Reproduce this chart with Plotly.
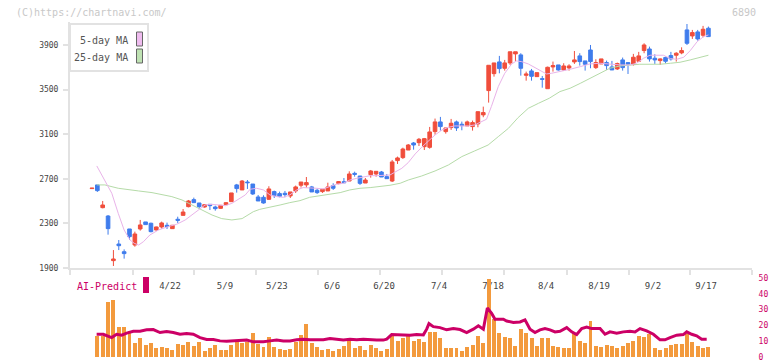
import plotly.graph_objects as go

# ---------------- data ----------------
opens = [2612, 2645, 2441, 2366, 1966, 2115, 2046, 2250, 2106, 2250,
         2313, 2301, 2241, 2268, 2283, 2253, 2337, 2372, 2450, 2513,
         2483, 2447, 2471, 2447, 2435, 2468, 2495, 2645, 2600, 2671,
         2653, 2537, 2534, 2516, 2585, 2567, 2570, 2546, 2591, 2642,
         2645, 2627, 2597, 2585, 2591, 2639, 2657, 2674, 2680, 2749,
         2725, 2662, 2737, 2743, 2761, 2719, 2680, 2863, 2890, 2958,
         3021, 3024, 2988, 2982, 3123, 3210, 3123, 3159, 3210, 3189,
         3174, 3168, 3192, 3273, 3491, 3643, 3748, 3691, 3739, 3820,
         3811, 3628, 3667, 3616, 3598, 3508, 3703, 3721, 3676, 3694,
         3748, 3802, 3757, 3855, 3697, 3730, 3742, 3703, 3685, 3766,
         3742, 3727, 3754, 3850, 3864, 3781, 3760, 3787, 3805, 3808,
         3829, 4035, 3981, 4017, 3987, 4050]
highs = [2616, 2645, 2501, 2375, 2061, 2151, 2067, 2250, 2226, 2331,
         2313, 2307, 2271, 2316, 2307, 2286, 2360, 2429, 2510, 2531,
         2483, 2468, 2471, 2459, 2462, 2489, 2573, 2654, 2689, 2689,
         2653, 2555, 2552, 2633, 2594, 2585, 2591, 2582, 2639, 2671,
         2716, 2636, 2612, 2606, 2665, 2660, 2680, 2707, 2767, 2764,
         2725, 2707, 2779, 2767, 2770, 2743, 2869, 2899, 2979, 3012,
         3030, 3066, 3066, 3165, 3240, 3255, 3156, 3237, 3222, 3213,
         3222, 3222, 3302, 3347, 3718, 3739, 3802, 3766, 3839, 3839,
         3826, 3661, 3685, 3652, 3622, 3706, 3751, 3721, 3736, 3727,
         3846, 3826, 3757, 3900, 3772, 3775, 3760, 3757, 3742, 3787,
         3742, 3820, 3838, 3915, 3885, 3817, 3781, 3796, 3838, 3835,
         3879, 4088, 4035, 4035, 4071, 4065]
lows = [2612, 2582, 2435, 2199, 1918, 2061, 1984, 2151, 2091, 2235,
        2289, 2220, 2235, 2253, 2250, 2250, 2304, 2372, 2444, 2486,
        2432, 2441, 2420, 2414, 2432, 2465, 2495, 2576, 2600, 2609,
        2555, 2501, 2477, 2510, 2528, 2534, 2534, 2528, 2573, 2621,
        2621, 2582, 2564, 2573, 2591, 2600, 2651, 2665, 2680, 2719,
        2645, 2662, 2710, 2719, 2716, 2701, 2671, 2833, 2878, 2958,
        2961, 2994, 2958, 2970, 3096, 3132, 3105, 3138, 3129, 3135,
        3174, 3132, 3162, 3252, 3383, 3616, 3646, 3670, 3721, 3757,
        3625, 3580, 3580, 3616, 3517, 3508, 3661, 3670, 3667, 3670,
        3730, 3715, 3670, 3691, 3685, 3730, 3676, 3676, 3676, 3670,
        3640, 3715, 3751, 3826, 3751, 3730, 3721, 3736, 3760, 3751,
        3817, 3900, 3954, 3939, 3969, 3975]
closes = [2616, 2594, 2465, 2253, 1981, 2100, 2029, 2181, 2205, 2286,
          2289, 2226, 2268, 2304, 2271, 2283, 2328, 2402, 2501, 2486,
          2450, 2468, 2459, 2432, 2462, 2486, 2573, 2612, 2680, 2665,
          2564, 2501, 2483, 2609, 2549, 2543, 2558, 2582, 2627, 2671,
          2666, 2582, 2576, 2606, 2627, 2615, 2675, 2665, 2743, 2740,
          2659, 2689, 2770, 2767, 2716, 2701, 2851, 2887, 2967, 3003,
          3003, 3054, 3060, 3120, 3210, 3168, 3156, 3198, 3156, 3177,
          3210, 3204, 3302, 3294, 3718, 3739, 3688, 3739, 3839, 3839,
          3691, 3640, 3619, 3652, 3592, 3700, 3715, 3676, 3712, 3712,
          3766, 3751, 3727, 3751, 3742, 3775, 3715, 3676, 3733, 3697,
          3727, 3790, 3802, 3900, 3775, 3766, 3775, 3754, 3775, 3826,
          3850, 3915, 4011, 3954, 4041, 3975]

volume = [0, 13.2, 13.2, 34.5, 35.8, 18.8, 18.8, 16.3, 8.8, 11.9,
          7.5, 8.8, 5.6, 6.3, 5.6, 4.4, 8.1, 7.5, 9.4, 6.9,
          9.4, 3.7, 5.6, 7.5, 4.4, 4.4, 7.5, 9.4, 8.8, 9.4,
          15.1, 8.1, 6.3, 12.5, 6.3, 5.0, 4.4, 5.0, 9.4, 13.8,
          20.7, 8.8, 6.3, 4.4, 5.0, 3.7, 5.0, 6.9, 10.0, 5.6,
          6.9, 4.4, 7.5, 5.6, 3.7, 5.0, 13.2, 10.0, 11.9, 13.2,
          10.0, 11.3, 9.4, 15.7, 15.7, 11.9, 5.6, 5.6, 5.6, 3.7,
          6.3, 7.5, 13.2, 8.8, 49.6, 23.9, 15.1, 12.5, 11.9, 7.1,
          17.8, 15.3, 11.9, 7.1, 11.9, 11.9, 7.1, 6.3, 5.6, 5.6,
          15.3, 10.2, 8.8, 22.6, 6.9, 6.3, 7.5, 6.9, 5.6, 6.9,
          8.8, 10.2, 13.2, 12.6, 14.7, 5.6, 4.4, 5.6, 7.5, 8.2,
          8.2, 14.7, 9.4, 6.9, 5.6, 6.3]

ma5_x = [0.9, 2.4, 3.7, 4.9, 6.0, 7.1, 7.9, 8.7, 9.6, 10.8, 12.4, 14.2, 15.8, 17.4,
         18.6, 19.9, 21.1, 22.4, 23.6, 24.9, 26.1, 27.4, 28.6, 29.5, 30.7, 32.0,
         33.2, 34.5, 35.7, 36.9, 38.2, 39.4, 40.6, 41.9, 43.1, 44.4, 45.6, 46.9,
         48.1, 49.4, 50.6, 51.9, 53.1, 54.4, 55.6, 56.9, 57.8, 59.0, 60.3, 61.5,
         62.7, 64.0, 65.3, 66.5, 67.7, 69.0, 70.2, 71.4, 72.7, 73.6, 74.5, 75.8,
         77.0, 78.3, 79.2, 80.1, 81.4, 82.6, 83.9, 84.8, 85.7, 87.3, 89.2, 91.1,
         92.9, 94.8, 96.6, 98.5, 100.4, 101.6, 102.9, 104.1, 105.4, 106.6, 107.9,
         109.1, 110.4, 111.6, 112.9, 114.1, 115.0]
ma5_y = [2815, 2689, 2570, 2390, 2241, 2151, 2121, 2106, 2136, 2196, 2241, 2271, 2292, 2331,
         2375, 2426, 2465, 2471, 2465, 2459, 2480, 2516, 2555, 2606, 2615, 2600,
         2555, 2540, 2534, 2555, 2600, 2621, 2621, 2615, 2609, 2630, 2651, 2660,
         2689, 2704, 2713, 2728, 2728, 2728, 2734, 2770, 2794, 2845, 2923, 2982,
         3033, 3093, 3138, 3162, 3174, 3174, 3174, 3183, 3213, 3234, 3347, 3527,
         3646, 3730, 3757, 3751, 3730, 3700, 3661, 3640, 3646, 3661, 3682, 3706,
         3730, 3736, 3727, 3721, 3721, 3736, 3781, 3808, 3808, 3808, 3778,
         3772, 3790, 3849, 3930, 3975, 3990]

ma25_x = [0.9, 2.4, 4.9, 6.8, 8.7, 11.2, 13.1, 14.9, 16.8, 18.6, 20.5, 22.4, 24.2,
          26.1, 28.0, 28.9, 30.1, 31.3, 33.2, 35.1, 36.9, 38.8, 40.6, 42.5, 44.4,
          46.3, 48.1, 50.0, 51.9, 53.7, 55.6, 57.5, 59.0, 61.5, 64.0, 66.5, 69.0,
          71.4, 73.9, 75.8, 77.7, 79.5, 81.4, 83.3, 85.3, 87.3, 89.2, 91.1, 92.9,
          94.8, 96.6, 98.5, 100.4, 102.2, 104.1, 106.0, 107.9, 109.7, 111.6, 113.5, 115.0]
ma25_y = [2645, 2645, 2615, 2600, 2591, 2576, 2561, 2540, 2510, 2465, 2420, 2375, 2343,
          2331, 2343, 2370, 2405, 2426, 2444, 2465, 2486, 2504, 2534, 2549, 2561,
          2576, 2600, 2615, 2621, 2630, 2642, 2660, 2689, 2725, 2770, 2824, 2899,
          2950, 3003, 3078, 3153, 3249, 3332, 3377, 3422, 3482, 3512, 3556, 3601,
          3646, 3691, 3712, 3721, 3727, 3727, 3727, 3736, 3745, 3766, 3790, 3808]

ai_x = [0.87, 2.11, 3.67, 4.6, 5.54, 6.47, 7.71, 8.96, 10.2, 11.44, 12.69, 13.93, 15.17,
        16.42, 17.66, 18.9, 20.15, 21.39, 22.64, 23.88, 25.12, 26.37, 27.61, 28.86, 30.1,
        30.72, 31.97, 33.21, 34.45, 35.7, 36.94, 38.18, 39.43, 40.67, 41.92, 43.16, 44.4,
        45.65, 46.89, 48.13, 49.38, 50.62, 51.87, 53.11, 54.35, 54.98, 55.91, 56.84, 58.08,
        59.33, 60.57, 61.82, 62.44, 62.87, 63.68, 64.93, 66.17, 67.41, 68.66, 69.9, 71.14,
        72.08, 73.01, 73.76, 74.56, 75.19, 76.74, 77.36, 78.61, 79.85, 80.78, 81.72, 82.65,
        83.58, 84.51, 85.45, 86.38, 87.31, 88.56, 89.49, 90.42, 91.36, 92.29, 93.22, 94.78,
        95.71, 96.64, 97.89, 99.13, 100.37, 101.31, 102.24, 103.48, 104.73, 105.97, 106.9,
        107.84, 109.08, 110.32, 110.95, 111.88, 112.81, 113.74, 114.68]
ai_y = [14.4, 14.4, 12.3, 14.4, 13.8, 15.1, 16.3, 16.3, 17.2, 17.4, 15.5, 16.1, 15.5,
        14.4, 14.8, 14.4, 12.3, 11.1, 11.1, 10.2, 10.0, 10.2, 10.2, 10.7, 9.6,
        9.6, 9.6, 10.2, 10.7, 10.2, 10.2, 10.9, 11.3, 10.9, 10.7, 10.9, 11.7,
        11.3, 10.7, 11.3, 10.9, 11.3, 10.9, 10.7, 10.7, 11.3, 14.2, 14.0, 14.2,
        13.8, 14.2, 14.0, 17.6, 21.1, 19.2, 18.6, 17.2, 18.0, 17.4, 15.5, 17.6,
        19.7, 17.6, 31.0, 27.6, 23.9, 23.9, 22.8, 21.8, 22.2, 23.5, 17.6, 15.5,
        17.2, 18.0, 17.2, 15.9, 16.3, 18.6, 15.9, 14.2, 18.0, 19.0, 18.0, 18.0,
        14.4, 15.9, 15.1, 15.9, 16.3, 15.9, 18.0, 16.5, 14.4, 10.9, 10.9,
        12.3, 13.8, 14.2, 15.9, 14.4, 13.4, 11.3, 11.3]

date_labels = ["4/22", "5/9", "5/23", "6/6", "6/20", "7/4", "7/18", "8/4", "8/19", "9/2", "9/17"]
label_pos = [14.55, 24.81, 34.51, 44.78, 54.48, 64.74, 74.81, 84.7, 94.59, 104.66, 114.55]
boundary_pos = [-4.1, 7.65, 19.03, 30.6, 42.16, 53.73, 65.3, 76.87, 88.62, 100.19, 111.57, 123.13]
price_ticks = [1900, 2300, 2700, 3100, 3500, 3900]
vol_ticks = [0, 10, 20, 30, 40, 50]

idx = list(range(len(opens)))

# ---------------- figure ----------------
W, H = 772, 361
L, R = 70, 20
def px(x):
    return (x - L) / (W - L - R)
def py(y):
    return (H - y) / H

RED = "#f04e3c"
BLUE = "#3f7cec"
MONO = "DejaVu Sans Mono"

fig = go.Figure()

fig.add_trace(go.Bar(x=idx, y=volume, marker=dict(color="#f39a3d", line=dict(width=0)),
                     width=0.74, xaxis="x2", yaxis="y2", showlegend=False))
fig.add_trace(go.Scatter(x=ai_x, y=ai_y, mode="lines", line=dict(color="#cc0066", width=3),
                         xaxis="x2", yaxis="y2", showlegend=False))

fig.add_trace(go.Scatter(x=ma25_x, y=ma25_y, mode="lines", line=dict(color="#b5dba8", width=1),
                         showlegend=False))
fig.add_trace(go.Scatter(x=ma5_x, y=ma5_y, mode="lines", line=dict(color="#e9b3e9", width=1),
                         showlegend=False))
fig.add_trace(go.Candlestick(x=idx, open=opens, high=highs, low=lows, close=closes,
                             increasing=dict(line=dict(color=RED, width=1), fillcolor=RED),
                             decreasing=dict(line=dict(color=BLUE, width=1), fillcolor=BLUE),
                             whiskerwidth=0, showlegend=False))

axis_grey = "#e2e2e2"
fig.update_layout(
    width=W, height=H, autosize=False,
    margin=dict(l=L, r=R, t=0, b=0, autoexpand=False),
    paper_bgcolor="white", plot_bgcolor="white",
    font=dict(family=MONO, size=8, color="#444"),
    showlegend=False, hovermode=False,
    bargap=0, boxgap=0.25, boxgroupgap=0.1,
    xaxis=dict(domain=[0, 1], range=[-4.1, 123.13], anchor="y", automargin=False,
               showgrid=False, zeroline=False, rangeslider=dict(visible=False),
               showline=True, linecolor=axis_grey, linewidth=2,
               tickmode="array", tickvals=label_pos, ticktext=date_labels,
               ticks="outside", ticklen=8, tickcolor="rgba(0,0,0,0)",
               tickfont=dict(family=MONO, size=9, color="#444"),
               minor=dict(tickmode="array", tickvals=boundary_pos, ticks="outside",
                          ticklen=5, tickwidth=2, tickcolor=axis_grey, showgrid=False)),
    yaxis=dict(domain=[py(268), py(22)], range=[1900, 4106], anchor="x", automargin=False,
               showgrid=False, zeroline=False,
               showline=True, linecolor=axis_grey, linewidth=2,
               tickmode="array", tickvals=price_ticks,
               ticks="outside", ticklen=5, tickwidth=2, tickcolor=axis_grey,
               ticklabelstandoff=3,
               tickfont=dict(family=MONO, size=8, color="#444")),
    xaxis2=dict(domain=[0, 1], range=[-4.1, 123.13], anchor="y2", visible=False, automargin=False),
    yaxis2=dict(domain=[py(357), py(278)], range=[0, 50], anchor="x2", side="right", automargin=False,
                showgrid=False, zeroline=False, showline=False,
                ticks="outside", ticklen=4, tickcolor="rgba(0,0,0,0)",
                ticklabeloverflow="allow",
                tickmode="array", tickvals=vol_ticks,
                tickfont=dict(family=MONO, size=8, color="#cc0066")),
)

# texts
fig.add_annotation(x=px(14), y=py(12), xref="paper", yref="paper", xanchor="left", yanchor="middle",
                   text="(C)https://chartnavi.com/", showarrow=False,
                   font=dict(family=MONO, size=10, color="#c8c8c8"))
fig.add_annotation(x=px(758), y=py(12), xref="paper", yref="paper", xanchor="right", yanchor="middle",
                   text="6890", showarrow=False, font=dict(family=MONO, size=10, color="#c8c8c8"))

# MA legend box
fig.add_shape(type="rect", xref="paper", yref="paper", x0=px(70), x1=px(148), y0=py(71), y1=py(24),
              line=dict(color=axis_grey, width=2), fillcolor="white", layer="above")
fig.add_annotation(x=px(130), y=py(40), xref="paper", yref="paper", xanchor="right", yanchor="middle",
                   text="5-day MA", showarrow=False, font=dict(family=MONO, size=10, color="#555"))
fig.add_annotation(x=px(130), y=py(57), xref="paper", yref="paper", xanchor="right", yanchor="middle",
                   text="25-day MA", showarrow=False, font=dict(family=MONO, size=10, color="#555"))
fig.add_shape(type="rect", xref="paper", yref="paper", x0=px(136.5), x1=px(142.5), y0=py(46), y1=py(32),
              line=dict(color="#666", width=1), fillcolor="#efbcef", layer="above")
fig.add_shape(type="rect", xref="paper", yref="paper", x0=px(136.5), x1=px(142.5), y0=py(63), y1=py(49),
              line=dict(color="#666", width=1), fillcolor="#bfe2b3", layer="above")

# AI-Predict label
fig.add_annotation(x=px(75), y=py(286), xref="paper", yref="paper", xanchor="left", yanchor="middle",
                   text="AI-Predict", showarrow=False, font=dict(family=MONO, size=10, color="#cc0066"))
fig.add_shape(type="rect", xref="paper", yref="paper", x0=px(143), x1=px(149), y0=py(293), y1=py(277),
              line=dict(width=0), fillcolor="#cc0066", layer="above")

fig.write_html("out.html", config={"displayModeBar": False, "staticPlot": True},
               post_script="document.body.style.margin='0';document.body.style.padding='0';"
                           "document.body.style.overflow='hidden';")
